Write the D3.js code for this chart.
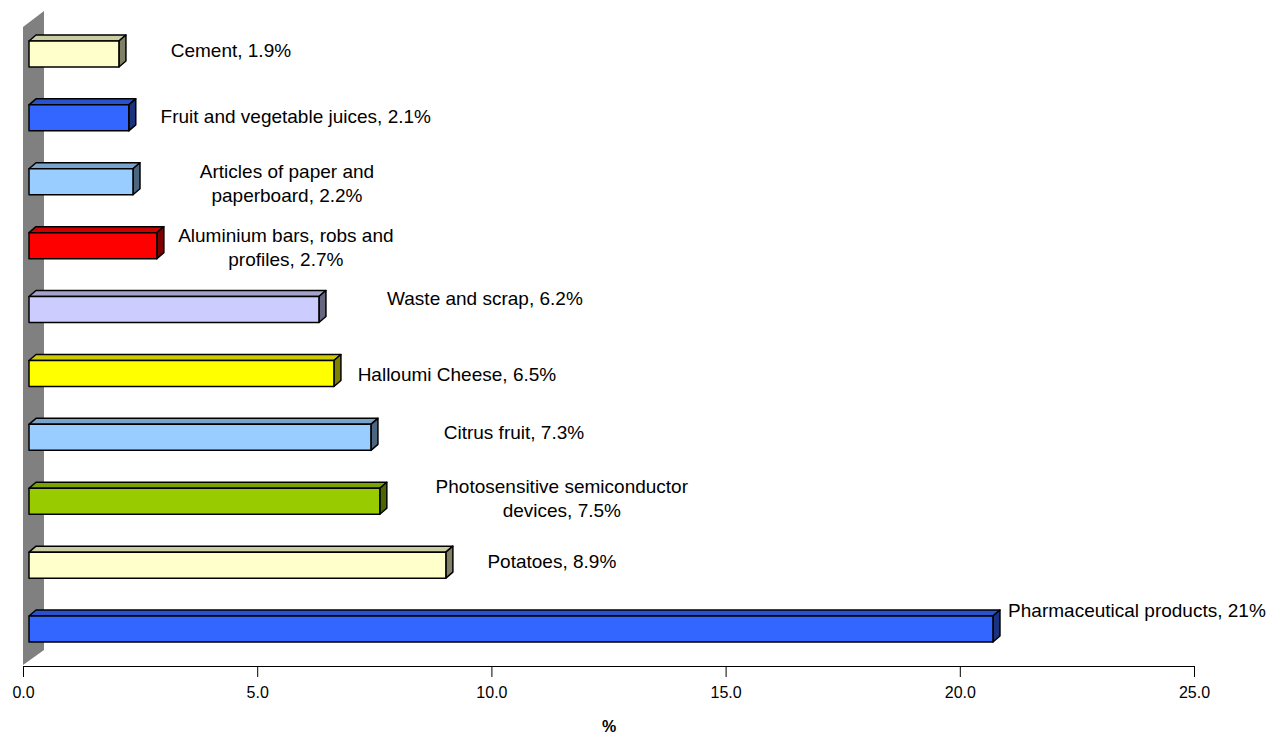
<!DOCTYPE html>
<html>
<head>
<meta charset="utf-8">
<script src="https://cdn.jsdelivr.net/npm/d3@7"></script>
<style>
  body { margin: 0; background: #fff; }
  svg { display: block; font-family: "Liberation Sans", Arial, sans-serif; }
</style>
</head>
<body>
<div id="chart"></div>
<script>
// data, top bar first
const categories = [
  'Cement', 'Fruit and vegetable juices', 'Articles of paper and paperboard',
  'Aluminium bars, robs and profiles', 'Waste and scrap', 'Halloumi Cheese',
  'Citrus fruit', 'Photosensitive semiconductor devices', 'Potatoes', 'Pharmaceutical products'
];
const values = [1.92, 2.13, 2.22, 2.73, 6.19, 6.51, 7.3, 7.49, 8.9, 20.58];
const labelLines = [
  ['Cement, 1.9%'],
  ['Fruit and vegetable juices, 2.1%'],
  ['Articles of paper and', 'paperboard, 2.2%'],
  ['Aluminium bars, robs and', 'profiles, 2.7%'],
  ['Waste and scrap, 6.2%'],
  ['Halloumi Cheese, 6.5%'],
  ['Citrus fruit, 7.3%'],
  ['Photosensitive semiconductor', 'devices, 7.5%'],
  ['Potatoes, 8.9%'],
  ['Pharmaceutical products, 21%']
];
const barColors = ['#FFFFCC', '#3366FF', '#99CCFF', '#FF0000', '#CCCCFF',
                   '#FFFF00', '#99CCFF', '#99CC00', '#FFFFCC', '#3366FF'];
const xTicks = [0, 5, 10, 15, 20, 25];

// label placement (px from bar end / bar middle), hand-placed like the original
const labelDx = [105, 160, 147, 122, 159, 116, 136, 175, 99, 137];
const labelDy = [-4, -2, 2, 2, -11, 1, -5, -3, -4, -19];

const width = 1269, height = 737;
const depth = { dx: 7, dy: -6 };

const svg = d3.select('#chart').append('svg')
  .attr('width', width)
  .attr('height', height);

const x = d3.scaleLinear().domain([0, 25]).range([23, 1194]);
const y = d3.scaleBand().domain(categories)
  .range([22, 661])
  .paddingInner(0.593)
  .paddingOuter(0.2965);

function shade(c, k) {
  const r = d3.rgb(c);
  return d3.rgb(r.r * k, r.g * k, r.b * k).formatHex();
}

// back wall
svg.append('polygon')
  .attr('points', [[23, 27], [44, 11], [44, 650], [23, 665]].join(' '))
  .attr('fill', '#808080');

// axis
const axis = svg.append('g')
  .attr('transform', 'translate(0,666)')
  .call(d3.axisBottom(x).tickValues(xTicks).tickFormat(d3.format('.1f')).tickSize(11).tickSizeOuter(0));
axis.select('.domain').attr('stroke', '#000');
axis.selectAll('.tick line').attr('stroke', '#000');
axis.selectAll('.tick text')
  .attr('y', 21)
  .attr('fill', '#000')
  .style('font-size', '16px')
  .style('font-family', '"Liberation Sans", Arial, sans-serif');

svg.append('text')
  .attr('x', 609)
  .attr('y', 732)
  .attr('text-anchor', 'middle')
  .style('font-size', '16px')
  .style('font-weight', 'bold')
  .text('%');

// 3d bars
const bars = svg.append('g').selectAll('g.bar')
  .data(categories)
  .join('g')
  .attr('class', 'bar');

const h = y.bandwidth();
bars.each(function (c, i) {
  const g = d3.select(this);
  const x0 = x(0) + 6, x1 = x(values[i]) + 6, y0 = y(c);
  const col = barColors[i];
  g.append('polygon')
    .attr('points', [[x0, y0], [x0 + depth.dx, y0 + depth.dy], [x1 + depth.dx, y0 + depth.dy], [x1, y0]].join(' '))
    .attr('fill', shade(col, 0.8));
  g.append('polygon')
    .attr('points', [[x1, y0], [x1 + depth.dx, y0 + depth.dy], [x1 + depth.dx, y0 + h + depth.dy], [x1, y0 + h]].join(' '))
    .attr('fill', shade(col, 0.5));
  g.append('rect')
    .attr('x', x0).attr('y', y0)
    .attr('width', x1 - x0).attr('height', h)
    .attr('fill', col);
  g.selectAll('polygon, rect')
    .attr('stroke', '#000')
    .attr('stroke-width', 1.5)
    .attr('stroke-linejoin', 'round');
});

// labels
const lineH = 24;
bars.each(function (c, i) {
  const lines = labelLines[i];
  const cx = x(values[i]) + 6 + depth.dx + labelDx[i];
  const cy = y(c) + h / 2 + labelDy[i] - (lines.length - 1) * lineH / 2;
  d3.select(this).append('text')
    .attr('text-anchor', 'middle')
    .style('font-size', '19px')
    .attr('fill', '#000')
    .selectAll('tspan')
    .data(lines)
    .join('tspan')
    .attr('x', cx)
    .attr('y', (d, j) => cy + j * lineH)
    .attr('dy', '0.35em')
    .text(d => d);
});
</script>
</body>
</html>
